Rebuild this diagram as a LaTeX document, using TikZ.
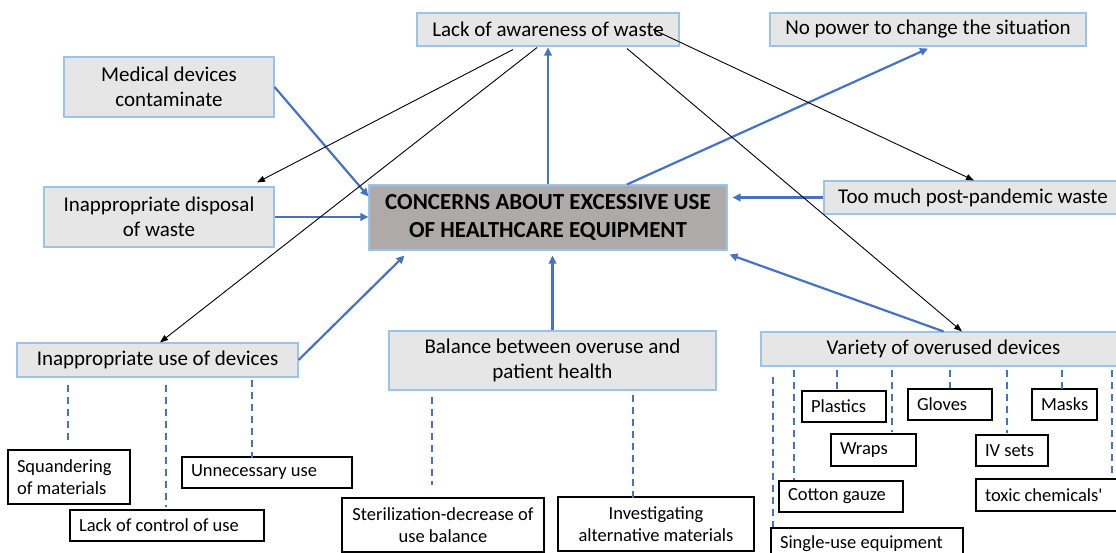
\documentclass[tikz,border=0pt]{standalone}
\usepackage{fontspec}
\setmainfont{Carlito}
\newfontfamily\plainfont{Carlito}
\usetikzlibrary{arrows.meta,calc}
\definecolor{gfill}{HTML}{E7E6E6}
\definecolor{cfill}{HTML}{AEAAAA}
\definecolor{bord}{HTML}{9DC3E6}
\definecolor{ablue}{HTML}{4472C4}
\tikzset{
  gbox/.style={draw=bord, fill=gfill, line width=1.1pt, inner sep=0pt, align=center,
    font=\fontsize{21}{25}\selectfont},
  cbox/.style={draw=bord, fill=cfill, line width=1.1pt, inner sep=0pt, align=center,
    font=\fontsize{23}{28}\selectfont\bfseries},
  wbox/.style={draw=black, fill=white, line width=1.1pt, inner ysep=0pt, inner xsep=9pt,
    font=\fontsize{18.5}{22.5}\selectfont},
  lbox/.style={wbox, align=left, execute at begin node={\spaceskip=0pt\xspaceskip=0pt\relax}},
  wcbox/.style={wbox, inner xsep=0pt, align=center},
  barrow/.style={draw=ablue, line width=2.2pt, -{Triangle[length=8pt,width=7.5pt]}},
  karrow/.style={draw=black, line width=0.9pt, -{Triangle[length=8pt,width=6pt]}},
  dsh/.style={draw=ablue, line width=2pt, dash pattern=on 7pt off 5pt},
}
\begin{document}
\begin{tikzpicture}[x=1pt,y=-1pt]
\useasboundingbox (0,0) rectangle (1116,553);
% gray boxes
\node[gbox, minimum width=262pt, minimum height=33pt] (lack) at (548,29.5) {Lack of awareness of waste};
\node[gbox, minimum width=316pt, minimum height=33pt] (nopower) at (928,29.5) {No power to change the situation};
\node[gbox, minimum width=210pt, minimum height=60pt] (medical) at (169,87) {Medical devices\\contaminate};
\node[gbox, minimum width=230pt, minimum height=60pt] (disposal) at (159,217) {Inappropriate disposal\\of waste};
\node[cbox, minimum width=358pt, minimum height=65pt] (central) at (548,217.5) {CONCERNS ABOUT EXCESSIVE USE\\OF HEALTHCARE EQUIPMENT};
\node[gbox, minimum width=298pt, minimum height=33pt] (toomuch) at (973,197.5) {Too much post-pandemic waste};
\node[gbox, minimum width=281pt, minimum height=34pt] (inuse) at (157.5,360) {Inappropriate use of devices};
\node[gbox, minimum width=327pt, minimum height=59pt] (balance) at (552.5,360.5) {Balance between overuse and\\patient health};
\node[gbox, minimum width=365pt, minimum height=34pt] (variety) at (943.5,349) {Variety of overused devices};
% white boxes
\node[lbox, minimum height=54pt, text width=104pt] (squander) at (69,477) {Squandering\\of materials};
\node[lbox, minimum height=31pt, text width=152pt] (unnec) at (267,472.5) {Unnecessary use};
\node[lbox, minimum height=31pt, text width=176pt] (lackctrl) at (167,525.5) {Lack of control of use};
\node[wcbox, minimum width=202pt, minimum height=54pt] (steril) at (443,525) {Sterilization-decrease of\\use balance};
\node[wcbox, minimum width=196pt, minimum height=54pt] (invest) at (656,524) {Investigating\\alternative materials};
\node[lbox, minimum height=31pt, text width=66pt] (plastics) at (844,406.5) {Plastics};
\node[lbox, minimum height=31pt, text width=66pt] (gloves) at (950,404.5) {Gloves};
\node[lbox, minimum height=31pt, text width=47pt] (masks) at (1064.5,404.5) {Masks};
\node[lbox, minimum height=32pt, text width=67pt] (wraps) at (873.5,450) {Wraps};
\node[lbox, minimum height=31pt, text width=54pt] (ivsets) at (1012,450.5) {IV sets};
\node[lbox, minimum height=31pt, text width=106pt] (cotton) at (841,496.5) {Cotton gauze};
\node[lbox, minimum height=32pt, text width=128pt] (toxic) at (1049,495) {toxic chemicals{\plainfont'}};
\node[lbox, minimum height=32pt, text width=174pt] (single) at (867,544) {Single-use equipment};
% blue arrows into / out of the central box
\draw[barrow] (medical.east) -- ([yshift=-12pt]central.north west);
\draw[barrow] (disposal.east) -- (disposal.east -| central.west);
\draw[barrow] (inuse.east) -- ([xshift=36pt,yshift=-5pt]central.south west);
\draw[barrow, shorten >=5pt] (balance.north) -- (balance.north |- central.south);
\draw[barrow] (variety.north) -- ([xshift=2pt,yshift=-4pt]central.south east);
\draw[barrow, shorten >=5pt] (toomuch.west) -- (toomuch.west -| central.east);
\draw[barrow, shorten >=1pt] (central.north) -- (central.north |- lack.south);
\draw[barrow] ([xshift=79pt]central.north) -- ([yshift=-2pt]nopower.south);
% black arrows from lack of awareness
\draw[karrow] ([xshift=-35pt,yshift=-3pt]lack.south) -- ([xshift=98pt,yshift=4pt]disposal.north);
\draw[karrow] ([xshift=-11pt,yshift=-1pt]lack.south) -- ([xshift=2.5pt]inuse.north);
\draw[karrow] ([xshift=105pt]lack.center) -- ([xshift=1pt]toomuch.north);
\draw[karrow] ([xshift=79pt,yshift=-2pt]lack.south) -- ([xshift=18.5pt]variety.north);
% dashed links
\draw[dsh] (68,385) -- (68,443);
\draw[dsh] (166,385) -- (166,507);
\draw[dsh] (252,380) -- (252,458);
\draw[dsh] (432,397) -- (432,485);
\draw[dsh] (633,395) -- (633,498);
\draw[dsh] (773,377) -- (773,527);
\draw[dsh] (794,370) -- (794,480);
\draw[dsh] (837,370) -- (837,389);
\draw[dsh] (892,370) -- (892,432);
\draw[dsh] (950,370) -- (950,388);
\draw[dsh] (1007,370) -- (1007,433);
\draw[dsh] (1062,370) -- (1062,389);
\draw[dsh] (1112,370) -- (1112,477);
\end{tikzpicture}
\end{document}
